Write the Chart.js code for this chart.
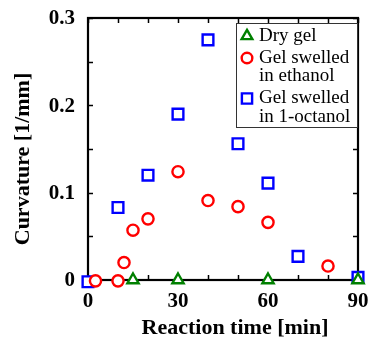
<!DOCTYPE html>
<html>
<head>
<meta charset="utf-8">
<script src="https://cdn.jsdelivr.net/npm/chart.js@4.4.1/dist/chart.umd.min.js"></script>
<style>
  html, body { margin: 0; padding: 0; background: #fff; }
  canvas { display: block; }
</style>
</head>
<body>
<canvas id="c" width="368" height="339"></canvas>
<script>
// ---- data ----
const seriesLabels = ['Dry gel', 'Gel swelled\nin ethanol', 'Gel swelled\nin 1-octanol'];
const dryX = [15, 30, 60, 90];
const dryY = [0, 0, 0, 0];
const ethX = [2.5, 10, 12, 15, 20, 30, 40, 50, 60, 80];
const ethY = [-0.001, -0.001, 0.020, 0.057, 0.070, 0.124, 0.091, 0.084, 0.066, 0.016];
const octX = [0, 10, 20, 30, 40, 50, 60, 70, 90];
const octY = [-0.002, 0.083, 0.120, 0.190, 0.275, 0.156, 0.111, 0.027, 0.003];
const xTickValues = [0, 10, 20, 30, 40, 50, 60, 70, 80, 90];
const xLabelValues = [0, 30, 60, 90];
const yTickValues = [0, 0.05, 0.1, 0.15, 0.2, 0.25, 0.3];
const yLabelValues = [0, 0.1, 0.2, 0.3];
const yLabelTexts = ['0', '0.1', '0.2', '0.3'];
const xTitle = 'Reaction time [min]';
const yTitle = 'Curvature [1/mm]';

const colors = ['#008000', '#ff0000', '#0000ff'];
const styles = ['triangle', 'circle', 'rect'];
const radii = [6.5, 5.6, 7.6];

function pts(xs, ys) { return xs.map((x, i) => ({ x: x, y: ys[i] })); }

function drawMarker(ctx, style, x, y, r, color) {
  ctx.save();
  ctx.strokeStyle = color;
  ctx.fillStyle = '#ffffff';
  ctx.lineWidth = 2.4;
  ctx.beginPath();
  if (style === 'circle') {
    ctx.arc(x, y, r, 0, Math.PI * 2);
  } else if (style === 'rect') {
    const s = r * Math.SQRT1_2;
    ctx.rect(x - s, y - s, 2 * s, 2 * s);
  } else {
    let a = 0;
    ctx.moveTo(x + Math.sin(a) * r, y - Math.cos(a) * r);
    a += 2 * Math.PI / 3;
    ctx.lineTo(x + Math.sin(a) * r, y - Math.cos(a) * r);
    a += 2 * Math.PI / 3;
    ctx.lineTo(x + Math.sin(a) * r, y - Math.cos(a) * r);
    ctx.closePath();
  }
  ctx.fill();
  ctx.stroke();
  ctx.restore();
}

const framePlugin = {
  id: 'frame',
  beforeDatasetsDraw(chart) {
    const ctx = chart.ctx;
    const a = chart.chartArea;
    const xs = chart.scales.x, ys = chart.scales.y;
    ctx.save();
    ctx.strokeStyle = '#000';
    ctx.lineWidth = 1.5;
    // ticks inward
    ctx.beginPath();
    xTickValues.forEach(v => {
      const px = Math.round(xs.getPixelForValue(v)) + 0.5;
      ctx.moveTo(px, a.bottom); ctx.lineTo(px, a.bottom - 5);
      ctx.moveTo(px, a.top); ctx.lineTo(px, a.top + 5);
    });
    yTickValues.forEach(v => {
      const py = Math.round(ys.getPixelForValue(v)) + 0.5;
      ctx.moveTo(a.left, py); ctx.lineTo(a.left + 5, py);
      ctx.moveTo(a.right, py); ctx.lineTo(a.right - 5, py);
    });
    ctx.stroke();
    ctx.lineWidth = 2.2;
    ctx.strokeRect(a.left, a.top, a.right - a.left, a.bottom - a.top);

    // tick labels
    ctx.fillStyle = '#000';
    ctx.font = 'bold 21px "Liberation Serif", "Times New Roman", serif';
    ctx.textAlign = 'center';
    ctx.textBaseline = 'middle';
    xLabelValues.forEach(v => {
      ctx.fillText(String(v), xs.getPixelForValue(v), 302);
    });
    ctx.textAlign = 'right';
    yLabelValues.forEach((v, i) => {
      ctx.fillText(yLabelTexts[i], 75, ys.getPixelForValue(v) + 1);
    });

    // axis titles
    ctx.font = 'bold 22px "Liberation Serif", "Times New Roman", serif';
    ctx.textAlign = 'center';
    ctx.fillText(xTitle, 235, 328);
    ctx.save();
    ctx.translate(23, 159);
    ctx.rotate(-Math.PI / 2);
    ctx.fillText(yTitle, 0, 0);
    ctx.restore();
    ctx.restore();
  },
  afterDraw(chart) {
    const ctx = chart.ctx;
    ctx.save();
    // legend box
    ctx.fillStyle = '#fff';
    ctx.fillRect(236, 23, 122, 105);
    ctx.strokeStyle = '#333';
    ctx.lineWidth = 1;
    ctx.strokeRect(236.5, 23.5, 121, 104);
    ctx.font = '19px "Liberation Serif", "Times New Roman", serif';
    ctx.fillStyle = '#000';
    ctx.textAlign = 'left';
    ctx.textBaseline = 'middle';
    let y = 36;
    chart.data.datasets.forEach((ds, i) => {
      drawMarker(ctx, styles[i], 247, y, radii[i] * 0.95, colors[i]);
      const lines = ds.label.split('\n');
      lines.forEach((ln, j) => {
        ctx.fillText(ln, 259, y + j * 18.5);
      });
      y += (lines.length - 1) * 18.5 + 22;
    });
    ctx.restore();
  }
};

new Chart(document.getElementById('c'), {
  type: 'scatter',
  data: {
    datasets: [
      { label: seriesLabels[0], data: pts(dryX, dryY) },
      { label: seriesLabels[1], data: pts(ethX, ethY) },
      { label: seriesLabels[2], data: pts(octX, octY) }
    ].map((d, i) => Object.assign(d, {
      pointStyle: styles[i],
      pointRadius: radii[i],
      pointHoverRadius: radii[i],
      borderColor: colors[i],
      backgroundColor: '#ffffff',
      pointBorderWidth: 2.4,
      borderWidth: 2.4,
      clip: false
    }))
  },
  options: {
    responsive: false,
    devicePixelRatio: 1,
    animation: false,
    layout: { padding: { left: 88, right: 8, top: 18, bottom: 59 } },
    scales: {
      x: { type: 'linear', min: 0, max: 90, display: false },
      y: { type: 'linear', min: 0, max: 0.3, display: false }
    },
    plugins: { legend: { display: false }, tooltip: { enabled: false } }
  },
  plugins: [framePlugin]
});
</script>
</body>
</html>
